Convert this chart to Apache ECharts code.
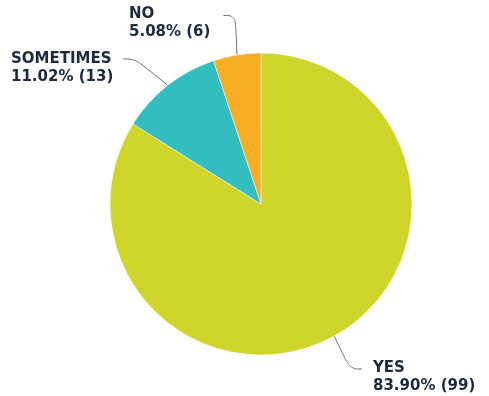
<!DOCTYPE html>
<html>
<head>
<meta charset="utf-8">
<script src="https://cdn.jsdelivr.net/npm/echarts@6/dist/echarts.min.js"></script>
<style>
  html, body { margin: 0; padding: 0; background: #fff; }
  #chart { width: 489px; height: 396px; }
</style>
</head>
<body>
<div id="chart"></div>
<script>
// Survey answers, drawn clockwise from 12 o'clock
const categories = ['YES', 'SOMETIMES', 'NO'];
const counts = [99, 13, 6];
const colors = ['#CFD42B', '#34BDBE', '#F6AF23'];

// Top-left corner of each label box (padding included)
const labelSpots = [
  { x: 362, y: 343 },
  { x: 11, y: 32 },
  { x: 129, y: -10 }
];
// Box padding [top, right, bottom, left]: sets where the leader line meets the box
const labelGaps = [
  [16, 0, 0, 11],
  [18, 15, 0, 0],
  [15, 13, 0, 0]
];

const chart = echarts.init(document.getElementById('chart'), null, { renderer: 'canvas' });

chart.setOption({
  animation: false,
  series: [{
    type: 'pie',
    center: [261, 204],
    radius: 151,
    startAngle: 90,
    clockwise: true,
    percentPrecision: 2,
    data: categories.map((name, i) => ({
      name: name,
      value: counts[i],
      itemStyle: { color: colors[i] },
      label: { padding: labelGaps[i] }
    })),
    itemStyle: { borderColor: '#ffffff', borderWidth: 0.5 },
    label: {
      show: true,
      position: 'outside',
      overflow: 'none',
      formatter: p => p.name + '\n' + p.percent.toFixed(2) + '% (' + p.value + ')',
      fontFamily: 'DejaVu Sans',
      fontWeight: 'bold',
      fontSize: 15,
      lineHeight: 18,
      color: '#1B2A3D',
      align: 'left'
    },
    labelLine: {
      show: true,
      length: 18,
      length2: 12,
      smooth: 0.4,
      lineStyle: { color: '#6B6B6B', width: 1 }
    },
    labelLayout: function (params) {
      const s = labelSpots[params.dataIndex];
      return { x: s.x, y: s.y, align: 'left', verticalAlign: 'top', moveOverlap: null };
    },
    emphasis: { disabled: true }
  }]
});
</script>
</body>
</html>
